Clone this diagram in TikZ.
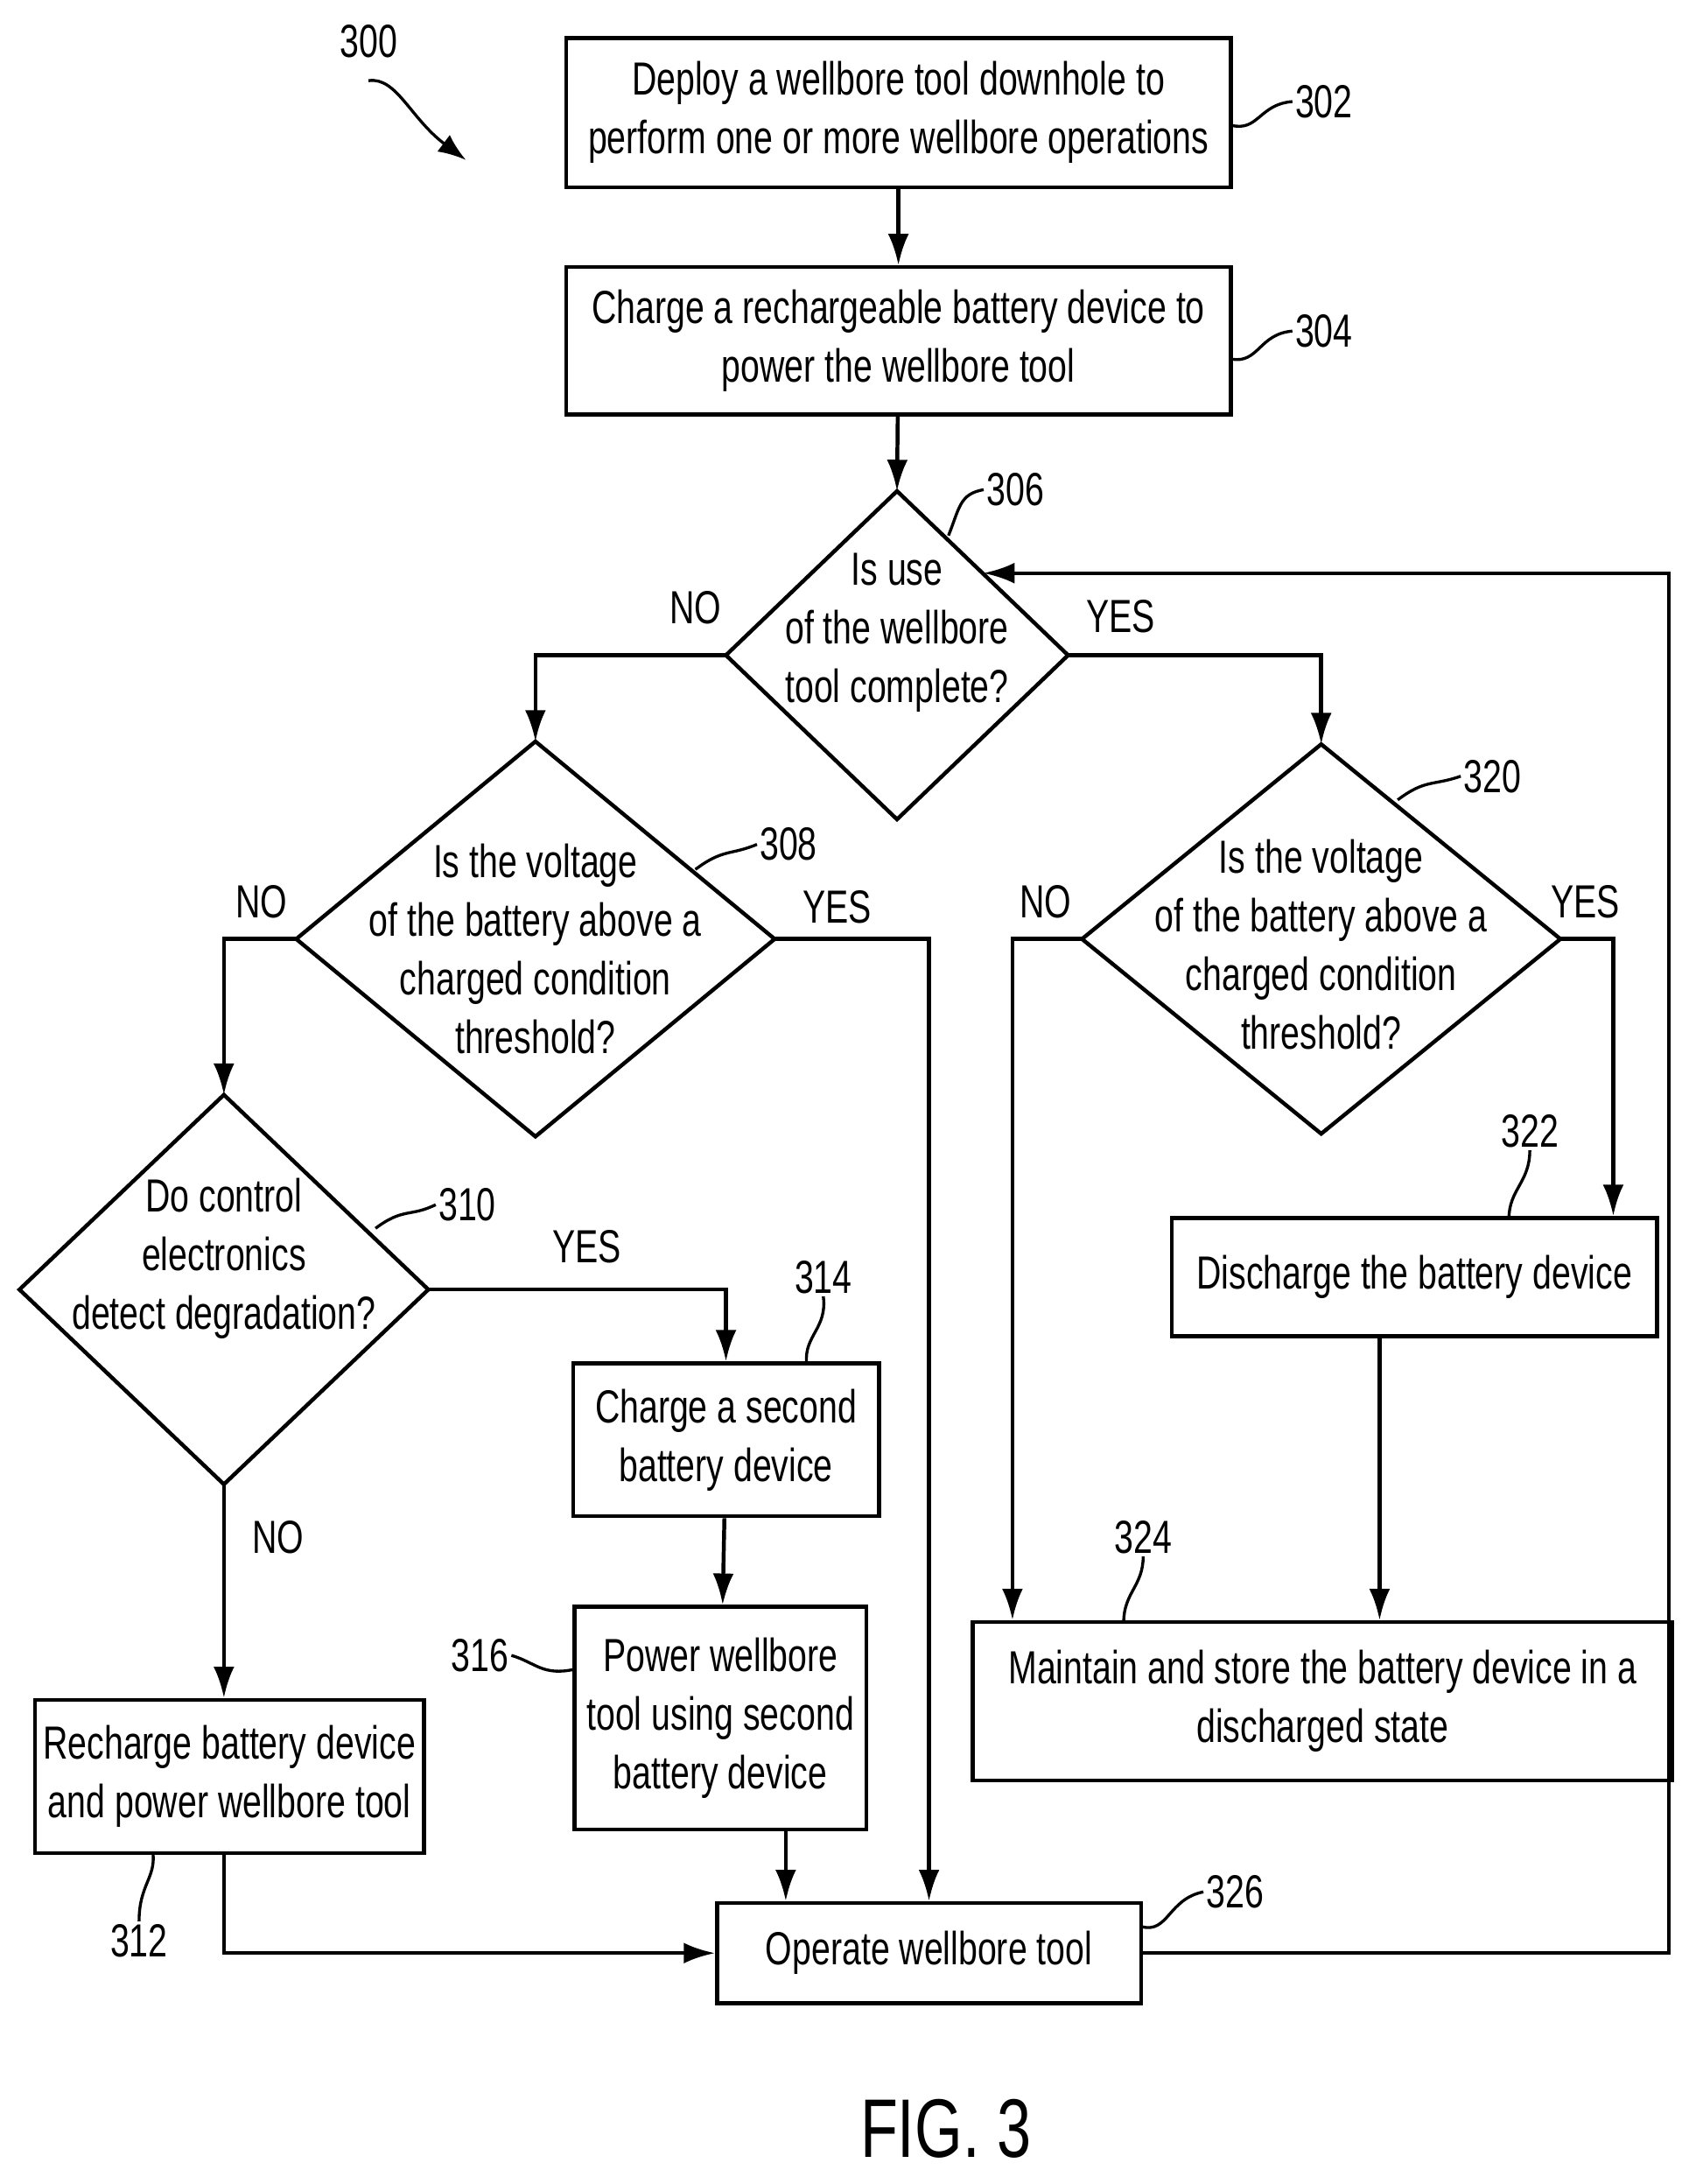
\documentclass[tikz,border=0pt]{standalone}
\usepackage{fontspec}
\setmainfont{Liberation Sans}[FakeStretch=0.74]
\usetikzlibrary{arrows.meta, calc}

\tikzset{
  blk/.style={draw, line width=1.6pt, align=center, inner sep=2pt},
  flow/.style={line width=1.6pt, -{Latex[length=4.5mm,width=3mm]}},
  lead/.style={line width=1.2pt},
  tag/.style={inner sep=1pt}
}
% decision: name, centre x, centre y, half width, half height, text y, text
\newcommand{\decision}[7]{%
  \node[align=center] (#1) at (#2,#6) {#7};
  \coordinate (#1-n) at (#2,#3-#5);
  \coordinate (#1-s) at (#2,#3+#5);
  \coordinate (#1-w) at (#2-#4,#3);
  \coordinate (#1-e) at (#2+#4,#3);
  \draw[line width=1.6pt] (#1-n) -- (#1-e) -- (#1-s) -- (#1-w) -- cycle;
}

\begin{document}
\begin{tikzpicture}[x=0.02cm, y=-0.02cm, font=\fontsize{19}{24}\selectfont]
\useasboundingbox (0,0) rectangle (1219,1570);

% boxes
\node[blk, minimum width=9.56cm, minimum height=2.14cm] (n302) at (646,81) {Deploy a wellbore tool downhole to\\perform one or more wellbore operations};
\node[blk, minimum width=9.56cm, minimum height=2.12cm] (n304) at (646,245) {Charge a rechargeable battery device to\\power the wellbore tool};
\decision{n306}{645}{471}{123}{118}{455}{Is use\\of the wellbore\\tool complete?}
\decision{n308}{385}{675}{172}{142}{682}{Is the voltage\\of the battery above a\\charged condition\\threshold?}
\decision{n310}{161}{927}{147}{140}{905}{Do control\\electronics\\detect degradation?}
\decision{n320}{950}{675}{172}{140}{679}{Is the voltage\\of the battery above a\\charged condition\\threshold?}
\node[blk, minimum width=4.4cm, minimum height=2.2cm] (n314) at (522,1035) {Charge a second\\battery device};
\node[blk, minimum width=4.2cm, minimum height=3.2cm] (n316) at (518,1235) {Power wellbore\\tool using second\\battery device};
\node[blk, minimum width=5.6cm, minimum height=2.2cm] (n312) at (165,1277) {Recharge battery device\\and power wellbore tool};
\node[blk, minimum width=6.1cm, minimum height=1.44cm] (n326) at (668,1404) {Operate wellbore tool};
\node[blk, minimum width=6.98cm, minimum height=1.7cm] (n322) at (1017,918) {Discharge the battery device};
\node[blk, minimum width=10.06cm, minimum height=2.28cm] (n324) at (951,1223) {Maintain and store the battery device in a\\discharged state};

% connectors
\draw[flow] (n302) -- (n304);
\draw[flow] (n304) -- (n306-n);
\draw[flow] (n306-w) -| (n308-n);
\draw[flow] (n306-e) -| (n320-n);
\draw[flow] (n308-w) -| (n310-n);
\draw[flow] (n308-e) -| (n326.north);
\draw[flow] (n310-e) -| (n314.north);
\draw[flow] (n310-s) -- (n312.north -| n310-s);
\draw[flow] (n314) -- (n316);
\draw[flow] (n316.south -| 565,0) -- (n326.north -| 565,0);
\draw[flow] (n312.south -| n310-s) |- (n326.west);
\draw[flow] (n320-w) -| (n324.north -| 728,0);
\draw[flow] (n320-e) -| (n322.north -| 1160,0);
\draw[flow] (n322.south -| 992,0) -- (n324.north -| 992,0);
\coordinate (back) at (1200,412);
\draw[flow] (n326.east) -| (back) -- (707,412);

% branch labels
\node (l1) at (500,437) {NO};
\node (l2) at (806,443) {YES};
\node (l3) at (188,648) {NO};
\node (l4) at (602,652) {YES};
\node (l5) at (422,896) {YES};
\node (l6) at (200,1105) {NO};
\node (l7) at (752,648) {NO};
\node (l8) at (1140,648) {YES};

% reference numbers
\node[tag] (t300) at (265,30) {300};
\draw[lead, -{Latex[length=4mm,width=3mm]}] (265,58) .. controls (285,55) and (295,85) .. (335,115);
\node[tag] (t302) at (952,73) {302};
\draw[lead] (885,90) .. controls (905,95) and (905,75) .. (t302.west);
\node[tag] (t304) at (952,238) {304};
\draw[lead] (885,258) .. controls (905,262) and (905,240) .. (t304.west);
\node[tag] (t306) at (730,352) {306};
\draw[lead] (682,385) .. controls (690,365) and (690,355) .. (t306.west);
\node[tag] (t308) at (567,607) {308};
\draw[lead] (500,625) .. controls (520,610) and (525,615) .. (t308.west);
\node[tag] (t310) at (336,866) {310};
\draw[lead] (270,883) .. controls (290,868) and (295,875) .. (t310.west);
\node[tag] (t314) at (592,918) {314};
\draw[lead] (580,980) .. controls (578,960) and (595,955) .. (t314.south);
\node[tag] (t316) at (345,1190) {316};
\draw[lead] (t316.east) .. controls (385,1195) and (390,1205) .. (413,1200);
\node[tag] (t312) at (100,1395) {312};
\draw[lead] (t312.north) .. controls (100,1355) and (112,1350) .. (110,1332);
\node[tag] (t320) at (1073,558) {320};
\draw[lead] (1005,575) .. controls (1025,560) and (1030,565) .. (t320.west);
\node[tag] (t322) at (1100,813) {322};
\draw[lead] (1085,876) .. controls (1085,855) and (1100,850) .. (t322.south);
\node[tag] (t324) at (822,1105) {324};
\draw[lead] (808,1166) .. controls (808,1145) and (822,1140) .. (t324.south);
\node[tag] (t326) at (888,1360) {326};
\draw[lead] (821,1385) .. controls (840,1390) and (840,1365) .. (t326.west);

\node (fig) at (680,1530) {\fontsize{34}{40}\selectfont FIG. 3};
\end{tikzpicture}
\end{document}
